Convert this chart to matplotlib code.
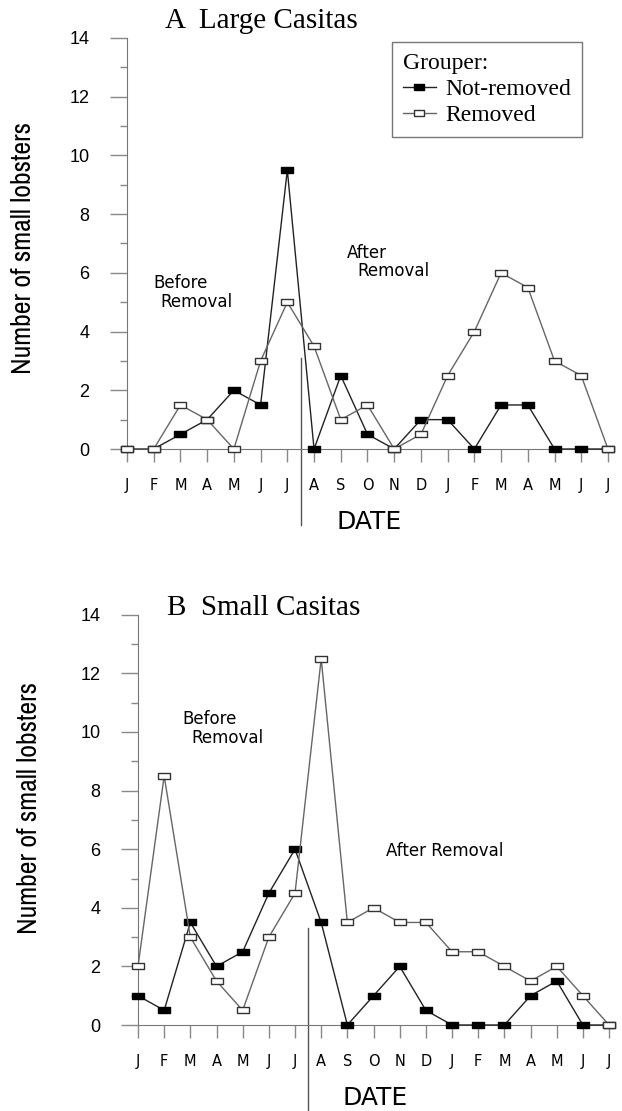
import matplotlib
matplotlib.use("Agg")
import matplotlib.pyplot as plt
from matplotlib import font_manager

# months from Jan to the July of the next year
months = ['J', 'F', 'M', 'A', 'M', 'J', 'J', 'A', 'S', 'O', 'N', 'D',
          'J', 'F', 'M', 'A', 'M', 'J', 'J']

# A - large casitas
large_not_removed = [0, 0, 0.5, 1, 2, 1.5, 9.5, 0, 2.5, 0.5, 0, 1, 1, 0, 1.5, 1.5, 0, 0, 0]
large_removed = [0, 0, 1.5, 1, 0, 3, 5, 3.5, 1, 1.5, 0, 0.5, 2.5, 4, 6, 5.5, 3, 2.5, 0]

# B - small casitas
small_not_removed = [1, 0.5, 3.5, 2, 2.5, 4.5, 6, 3.5, 0, 1, 2, 0.5, 0, 0, 0, 1, 1.5, 0, 0]
small_removed = [2, 8.5, 3, 1.5, 0.5, 3, 4.5, 12.5, 3.5, 4, 3.5, 3.5, 2.5, 2.5, 2, 1.5, 2, 1, 0]

removal_time = 6.5  # between July and August

# look for a narrow sans for the y label
narrow_family, narrow_stretch = 'Liberation Sans', 'normal'
for f in font_manager.fontManager.ttflist:
    if 'Narrow' in f.name or 'Condensed' in f.name:
        narrow_family, narrow_stretch = f.name, 'normal'
        break
else:
    for f in font_manager.fontManager.ttflist:
        if f.name == 'DejaVu Sans' and str(f.stretch) in ('condensed', '600', 'semi-condensed') or \
                (f.name == 'DejaVu Sans' and 'Condensed' in f.fname):
            narrow_family, narrow_stretch = 'DejaVu Sans', 'condensed'
            break
serif = 'Liberation Serif'

# rectangular marker, wider than tall
rect = [(-1, -0.55), (1, -0.55), (1, 0.55), (-1, 0.55), (-1, -0.55)]

W, H = 622, 1111
fig = plt.figure(figsize=(W / 100, H / 100), dpi=100)


def make_panel(left, bottom, unit_x, unit_y, not_removed, removed):
    ax = fig.add_axes([left / W, (H - bottom) / H, 18.15 * unit_x / W, 14 * unit_y / H])
    x = list(range(len(months)))
    ax.plot(x, not_removed, color='#222222', lw=1, marker=rect, markersize=8.6,
            mfc='black', mec='black', clip_on=False, zorder=3, label='Not-removed')
    ax.plot(x, removed, color='#666666', lw=1, marker=rect, markersize=8.6,
            mfc='white', mec='#333333', mew=1, clip_on=False, zorder=4, label='Removed')
    ax.set_xlim(0, 18.15)
    ax.set_ylim(0, 14)
    ax.spines['top'].set_visible(False)
    ax.spines['right'].set_visible(False)
    ax.spines['left'].set_color('#777777')
    ax.spines['bottom'].set_color('#777777')
    ax.set_xticks(x)
    ax.set_xticklabels(months, family='DejaVu Sans', fontsize=10.5)
    ax.set_yticks(range(0, 15, 2))
    ax.set_yticks(range(1, 14, 2), minor=True)
    ax.set_yticklabels([str(v) for v in range(0, 15, 2)], family='Liberation Sans', fontsize=13)
    ax.tick_params(axis='x', length=9, width=1, color='#888888', pad=12)
    ax.tick_params(axis='y', which='major', length=12, width=1, color='#888888', pad=15)
    ax.tick_params(axis='y', which='minor', length=5, width=1, color='#888888')
    ax.set_xlabel('DATE', family='DejaVu Sans', fontsize=18, labelpad=12)
    return ax


axA = make_panel(127, 449, 26.72, 29.36, large_not_removed, large_removed)
axA.plot([removal_time, removal_time], [3.1, -2.6], color='#555555', lw=1, clip_on=False)
axA.text(0.97, 5.65, 'Before', family='DejaVu Sans', fontsize=12, va='center')
axA.text(1.24, 5.0, 'Removal', family='DejaVu Sans', fontsize=12, va='center')
axA.text(8.23, 6.68, 'After', family='DejaVu Sans', fontsize=12, va='center')
axA.text(8.61, 6.06, 'Removal', family='DejaVu Sans', fontsize=12, va='center')
leg = axA.legend(title='Grouper:', loc='upper left',
                 bbox_to_anchor=(392 / W, 1 - 42 / H), bbox_transform=fig.transFigure,
                 borderaxespad=0, prop={'family': serif, 'size': 17},
                 title_fontproperties={'family': serif, 'size': 17},
                 alignment='left', fancybox=False, framealpha=1, edgecolor='#777777',
                 handlelength=1.4, handletextpad=0.4, labelspacing=0.2, borderpad=0.45,
                 markerscale=0.9)
leg.get_frame().set_linewidth(1)

axB = make_panel(138, 1025, 26.17, 29.3, small_not_removed, small_removed)
axB.plot([removal_time, removal_time], [3.3, -3.0], color='#555555', lw=1, clip_on=False)
axB.text(1.68, 10.44, 'Before', family='DejaVu Sans', fontsize=12, va='center')
axB.text(2.03, 9.8, 'Removal', family='DejaVu Sans', fontsize=12, va='center')
axB.text(9.48, 5.94, 'After Removal', family='DejaVu Sans', fontsize=12, va='center')

fig.text(165 / W, 1 - 28 / H, 'A  Large Casitas', family=serif, fontsize=21, va='baseline')
fig.text(167 / W, 1 - 615 / H, 'B  Small Casitas', family=serif, fontsize=21, va='baseline')

# y labels: shrink the font until the label is about 252 px long
renderer = fig.canvas.get_renderer()
for cx, cy in [(24, 248), (30, 808)]:
    t = fig.text(cx / W, 1 - cy / H, 'Number of small lobsters', family=narrow_family,
                 fontstretch=narrow_stretch, fontsize=20, rotation=90, ha='center', va='center')
    length = t.get_window_extent(renderer).height
    t.set_fontsize(20 * 252 / length)

fig.savefig('out.png', dpi=100)
